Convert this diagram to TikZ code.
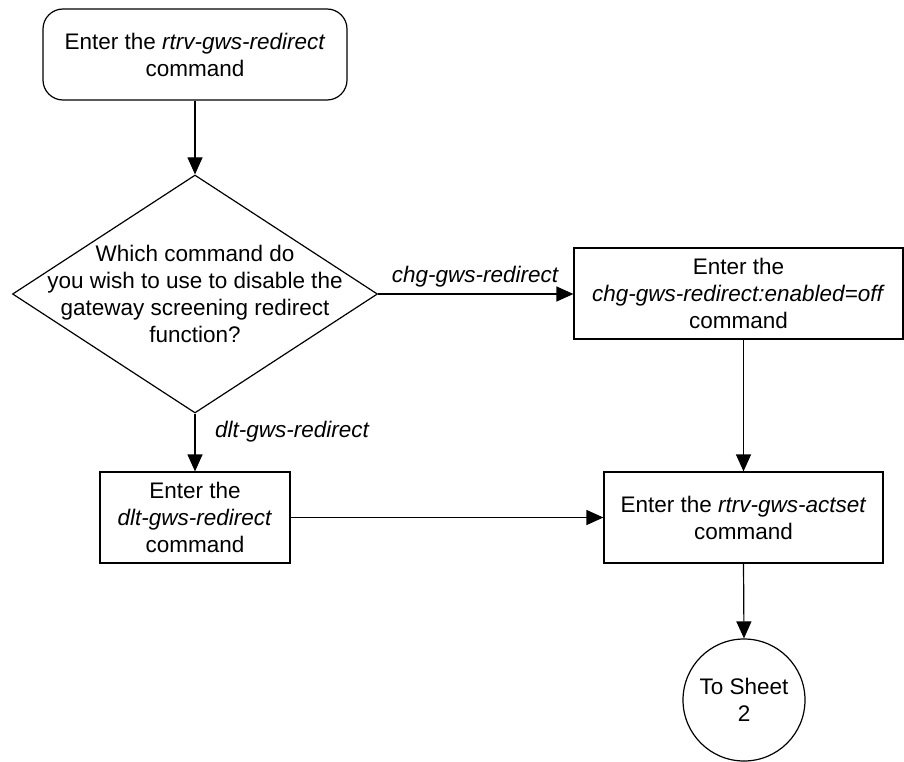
\documentclass[tikz,border=0pt]{standalone}
\usepackage{fontspec}
\setmainfont{Liberation Sans}
\usetikzlibrary{shapes.geometric,arrows.meta}
\begin{document}
\begin{tikzpicture}[x=1pt,y=-1pt,
  every node/.style={font=\fontsize{22.5}{27}\selectfont, align=center},
  base/.style={draw, line width=1.2pt, inner sep=0pt},
  procbox/.style={base, rectangle, minimum height=91pt},
  startbox/.style={base, rectangle, rounded corners=20pt, minimum height=91pt},
  decbox/.style={base, diamond},
  termcirc/.style={base, circle, minimum size=122pt},
  conn/.style={line width=1.2pt},
  arr/.style={conn, -{Triangle[length=17pt,width=15pt]}},
  lbl/.style={font=\fontsize{22.5}{27}\selectfont\itshape, inner sep=0pt}
]
\useasboundingbox (0,0) rectangle (904,762);

\node[startbox, minimum width=304pt] (start) at (195,54.5)
  {Enter the \textit{rtrv-gws-redirect}\\command};
\node[decbox, minimum width=365pt, minimum height=238pt] (dec) at (195,294) {};
\node (dectext) at (dec.center)
  {Which command do\\you wish to use to disable the\\gateway screening redirect\\function?};
\node[procbox, minimum width=329pt] (chg) at (738.5,293.5)
  {Enter the\\\textit{chg-gws-redirect:enabled=off}\\command};
\node[procbox, minimum width=190pt] (dlt) at (195,517.5)
  {Enter the\\\textit{dlt-gws-redirect}\\command};
\node[procbox, minimum width=279pt] (act) at (743.5,517.5)
  {Enter the \textit{rtrv-gws-actset}\\command};
\node[termcirc] (sheet) at (744,700) {To Sheet\\2};

\node[lbl] (lchg) at (475,277) {chg-gws-redirect};
\node[lbl] (ldlt) at (292,432) {dlt-gws-redirect};

\draw[arr] (start) -- (dec.north);
\draw[arr] (dec.east) -- (dec.east -| chg.west);
\draw[arr] (dec.south) -- (dlt.north);
\draw[arr] (chg.south -| act.north) -- (act.north);
\draw[arr] (dlt.east) -- (dlt.east -| act.west);
\draw[arr] (act.south) -- (sheet.north);
\end{tikzpicture}
\end{document}
